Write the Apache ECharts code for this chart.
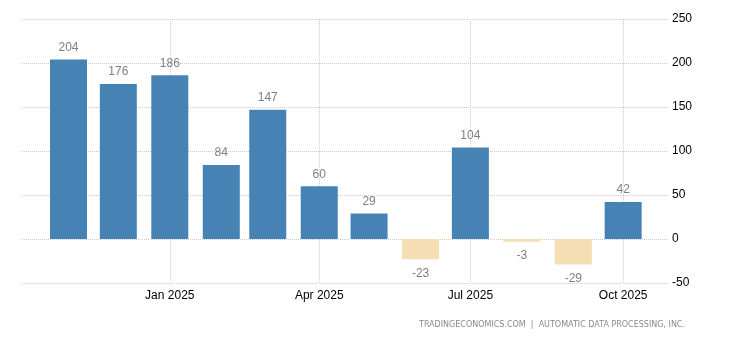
<!DOCTYPE html>
<html>
<head>
<meta charset="utf-8">
<script src="https://cdn.jsdelivr.net/npm/echarts@6/dist/echarts.min.js"></script>
<style>
  html, body { margin: 0; padding: 0; background: #fff; }
  #chart { width: 730px; height: 340px; }
</style>
</head>
<body>
<div id="chart"></div>
<script>
// Monthly change, ADP employment (thousands)
const months = ['2024-11-01', '2024-12-01', '2025-01-01', '2025-02-01', '2025-03-01', '2025-04-01',
                '2025-05-01', '2025-06-01', '2025-07-01', '2025-08-01', '2025-09-01', '2025-10-01'];
const changes = [204, 176, 186, 84, 147, 60, 29, -23, 104, -3, -29, 42];
const quarterTicks = ['2025-01-01', '2025-04-01', '2025-07-01', '2025-10-01'];
const monthNames = ['Jan', 'Feb', 'Mar', 'Apr', 'May', 'Jun', 'Jul', 'Aug', 'Sep', 'Oct', 'Nov', 'Dec'];
const xRange = ['2024-10-04', '2025-10-28'];
const yTicks = { min: -50, max: 250, step: 50 };
const sourceNote = 'TRADINGECONOMICS.COM  |  AUTOMATIC DATA PROCESSING, INC.';

// The x axis is linear in days, counted from the start of 2025.
const DAY = 24 * 3600 * 1000;
const ORIGIN = Date.UTC(2025, 0, 1);
function toDay(iso) {
  const [y, m, d] = iso.split('-').map(Number);
  return Math.round((Date.UTC(y, m - 1, d) - ORIGIN) / DAY);
}
function dayLabel(n) {
  const d = new Date(ORIGIN + n * DAY);
  return monthNames[d.getUTCMonth()] + ' ' + d.getUTCFullYear();
}

const POS = '#4682b4';
const NEG = '#f5deb3';
const GRID = '#cccccc';
const FONT = 'Liberation Sans';

const points = months.map((m, i) => {
  const v = changes[i];
  return {
    value: [toDay(m), v],
    itemStyle: { color: v < 0 ? NEG : POS },
    label: { position: v < 0 ? 'bottom' : 'top', distance: v < 0 ? 8 : 6 }
  };
});
const tickDays = quarterTicks.map(toDay);

const chart = echarts.init(document.getElementById('chart'), null, { renderer: 'canvas' });

chart.setOption({
  animation: false,
  backgroundColor: '#ffffff',
  grid: { left: 22, right: 62, top: 19, bottom: 57, containLabel: false },
  xAxis: {
    type: 'value',
    min: toDay(xRange[0]),
    max: toDay(xRange[1]),
    axisLine: { show: false },
    axisTick: {
      show: true, length: 4, customValues: tickDays,
      lineStyle: { color: GRID, type: 'dotted' }
    },
    axisLabel: {
      color: '#000000',
      fontFamily: FONT,
      fontSize: 12,
      margin: 7,
      customValues: tickDays,
      formatter: v => dayLabel(v)
    },
    splitLine: { show: true, lineStyle: { color: GRID, type: 'dotted', width: 1 } }
  },
  yAxis: {
    type: 'value',
    position: 'right',
    min: yTicks.min,
    max: yTicks.max,
    interval: yTicks.step,
    axisLine: { show: false },
    axisTick: { show: false },
    axisLabel: {
      color: '#000000',
      fontFamily: FONT,
      fontSize: 12,
      margin: 4
    },
    splitLine: { show: true, lineStyle: { color: GRID, type: 'dotted', width: 1 } }
  },
  series: [{
    type: 'bar',
    barWidth: 37,
    data: points,
    label: {
      show: true,
      color: '#808080',
      fontFamily: FONT,
      fontSize: 12,
      formatter: p => String(p.value[1])
    }
  }],
  graphic: [{
    type: 'text',
    right: 45,
    top: 321,
    style: {
      text: sourceNote,
      fill: '#8a8a8a',
      font: '8px "DejaVu Sans"'
    }
  }]
});
</script>
</body>
</html>
